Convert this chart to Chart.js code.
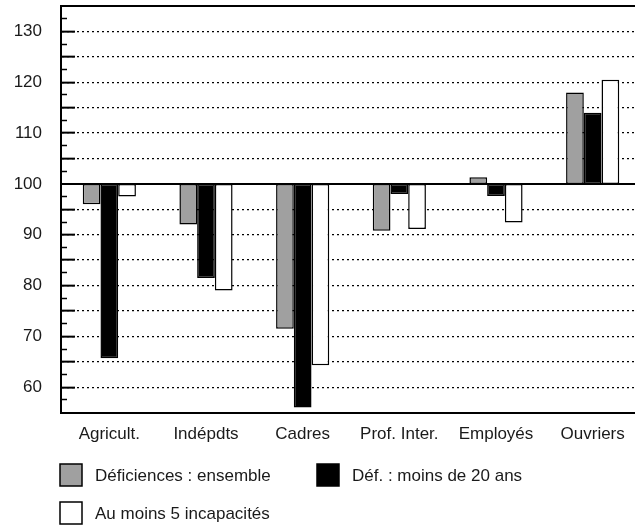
<!DOCTYPE html>
<html>
<head>
<meta charset="utf-8">
<script src="https://cdn.jsdelivr.net/npm/chart.js@4"></script>
<style>
  html, body { margin: 0; padding: 0; background: #fff; overflow: hidden; }
  #wrap { width: 642px; height: 531px; }
</style>
</head>
<body>
<div id="wrap"><canvas id="chart"></canvas></div>
<script>
const labels = ["Agricult.", "Indépdts", "Cadres", "Prof. Inter.", "Employés", "Ouvriers"];
const deficiences = [96, 92, 71.5, 90.8, 101.3, 118];
const moins20 = [65.7, 81.5, 56, 98, 97.6, 114];
const incap5 = [97.5, 79, 64.3, 91.1, 92.4, 120.5];
const base = 100;

const FONT = "'Liberation Sans', Arial, sans-serif";
const TXT = "#1a1a1a";

// bars float from the base value 100
const fromBase = arr => arr.map(v => [base, v]);

const series = [
    { label: "Déficiences : ensemble", data: deficiences, fill: "#a0a0a0" },
    { label: "Déf. : moins de 20 ans", data: moins20, fill: "#000000" },
    { label: "Au moins 5 incapacités", data: incap5, fill: "#ffffff" },
];

// legend drawn by hand, layout like the original (two items then one)
const legendPlugin = {
    id: "handLegend",
    afterDraw(chart) {
        const ctx = chart.ctx;
        const spots = [[60, 464], [317, 464], [60, 502]];
        ctx.save();
        ctx.font = "17px " + FONT;
        ctx.textBaseline = "middle";
        chart.data.datasets.forEach((ds, i) => {
            const [x, y] = spots[i];
            ctx.fillStyle = ds.backgroundColor;
            ctx.fillRect(x, y, 22, 22);
            ctx.lineWidth = 1.5;
            ctx.strokeStyle = "#000";
            ctx.strokeRect(x, y, 22, 22);
            ctx.fillStyle = TXT;
            ctx.fillText(ds.label, x + 35, y + 12);
        });
        ctx.restore();
    }
};

const ctx = document.getElementById("chart").getContext("2d");
const myChart = new Chart(ctx, {
    type: "bar",
    data: {
        labels: labels,
        datasets: series.map(s => ({
            label: s.label,
            data: fromBase(s.data),
            backgroundColor: s.fill,
            borderColor: "#000",
            borderWidth: 1.5,
            borderSkipped: false,
        })),
    },
    options: {
        responsive: true,
        maintainAspectRatio: false,
        animation: false,
        events: [],
        layout: { padding: { top: 6, right: 1, bottom: 74, left: 0 } },
        datasets: { bar: { barPercentage: 1, categoryPercentage: 0.55 } },
        plugins: {
            legend: { display: false },
            tooltip: { enabled: false },
        },
        scales: {
            x: {
                afterFit: s => { s.paddingLeft = 0; s.paddingRight = 0; },
                grid: { display: false, drawTicks: false },
                border: { color: "#000", width: 2 },
                ticks: { color: TXT, font: { family: FONT, size: 17 }, padding: 12, maxRotation: 0, autoSkip: false },
            },
            y: {
                min: 55,
                max: 135,
                weight: 1,
                afterFit: s => { s.width = 61; s.paddingTop = 0; s.paddingBottom = 0; },
                ticks: {
                    stepSize: 5,
                    autoSkip: false,
                    color: TXT,
                    font: { family: FONT, size: 17 },
                    padding: 33,
                    callback: v => (v % 10 === 0 && v >= 60 && v <= 130) ? v : "",
                },
                grid: {
                    tickLength: -14,
                    lineWidth: c => (c.tick && (c.tick.value === 100 || c.tick.value === 135)) ? 2 : 1.3,
                    color: c => (c.tick && c.tick.value === 55) ? "rgba(0,0,0,0)" : "#000",
                    tickColor: c => (c.tick && c.tick.value > 55 && c.tick.value < 135) ? "#000" : "rgba(0,0,0,0)",
                    tickWidth: 2,
                    tickBorderDash: [],
                },
                border: {
                    color: "#000",
                    width: 2,
                    dash: c => (c.tick && (c.tick.value === 100 || c.tick.value === 135)) ? [] : [2, 3],
                },
            },
            y2: {
                min: 55,
                max: 135,
                position: "left",
                weight: -1,
                afterFit: s => { s.width = 0; s.paddingTop = 0; s.paddingBottom = 0; },
                ticks: { display: false, stepSize: 2.5, autoSkip: false },
                grid: {
                    drawOnChartArea: false,
                    tickLength: -6,
                    tickWidth: 1.5,
                    tickColor: c => (c.tick && c.tick.value % 5 !== 0) ? "#000" : "rgba(0,0,0,0)",
                    tickBorderDash: [],
                },
                border: { display: false },
            },
        },
    },
    plugins: [legendPlugin],
});
</script>
</body>
</html>
